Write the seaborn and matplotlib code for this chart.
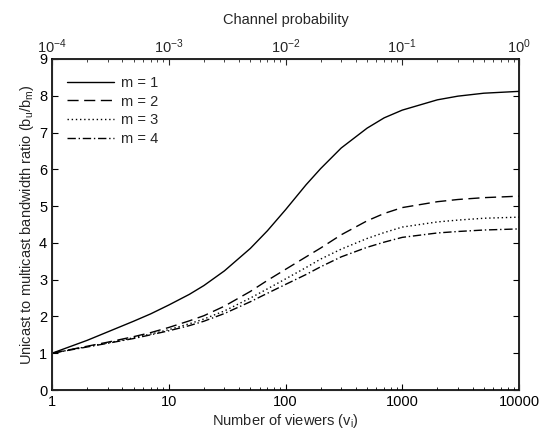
import matplotlib
matplotlib.use("Agg")
import matplotlib.pyplot as plt
import seaborn as sns
import pandas as pd
from matplotlib.ticker import LogLocator, FixedLocator, NullFormatter

viewers = [1, 2, 3, 5, 7, 10, 15, 20, 30, 50, 70, 100, 150, 200, 300, 500,
           700, 1000, 2000, 3000, 5000, 10000]
m1 = [1.0, 1.35, 1.58, 1.87, 2.07, 2.31, 2.60, 2.84, 3.24, 3.85, 4.33, 4.90,
      5.58, 6.02, 6.58, 7.12, 7.40, 7.61, 7.89, 7.99, 8.07, 8.12]
m2 = [1.0, 1.19, 1.30, 1.45, 1.56, 1.70, 1.88, 2.02, 2.28, 2.68, 2.98, 3.28,
      3.62, 3.86, 4.22, 4.60, 4.80, 4.96, 5.12, 5.18, 5.23, 5.27]
m3 = [1.0, 1.18, 1.28, 1.42, 1.52, 1.64, 1.80, 1.93, 2.15, 2.50, 2.75, 3.02,
      3.33, 3.56, 3.83, 4.12, 4.28, 4.43, 4.57, 4.62, 4.67, 4.70]
m4 = [1.0, 1.17, 1.27, 1.40, 1.50, 1.61, 1.75, 1.87, 2.08, 2.40, 2.63, 2.87,
      3.14, 3.35, 3.62, 3.88, 4.02, 4.15, 4.27, 4.31, 4.35, 4.38]
labels = ["m = 1", "m = 2", "m = 3", "m = 4"]
top_ticks = [1e-4, 1e-3, 1e-2, 1e-1, 1e0]
top_labels = [r"$10^{-4}$", r"$10^{-3}$", r"$10^{-2}$", r"$10^{-1}$", r"$10^{0}$"]
bottom_ticks = [1, 10, 100, 1000, 10000]
bottom_labels = ["1", "10", "100", "1000", "10000"]

sns.set_style("ticks")
plt.rcParams["font.family"] = ["Liberation Sans", "DejaVu Sans"]
plt.rcParams["mathtext.fontset"] = "custom"
plt.rcParams["mathtext.rm"] = "Liberation Sans"
plt.rcParams["mathtext.it"] = "Liberation Sans"
plt.rcParams["xtick.direction"] = "in"
plt.rcParams["ytick.direction"] = "in"

fig = plt.figure(figsize=(5.44, 4.33), dpi=100)
ax = fig.add_axes([52/544, 43/433, (519-52)/544, (390-59)/433])

styles = ["-", (0, (8, 4)), (0, (1, 2)), (0, (6, 2, 1, 2))]
for ys, lab, ls in zip([m1, m2, m3, m4], labels, styles):
    df = pd.DataFrame({"v": viewers, "r": ys})
    sns.lineplot(data=df, x="v", y="r", ax=ax, color="black", lw=1.0,
                 linestyle=ls, label=lab)

ax.set_xscale("log")
ax.set_xlim(1, 10000)
ax.set_ylim(0, 9)
ax.set_yticks(range(0, 10))
ax.xaxis.set_major_locator(FixedLocator(bottom_ticks))
ax.set_xticklabels(bottom_labels)
ax.xaxis.set_minor_locator(LogLocator(base=10, subs=range(2, 10)))
ax.xaxis.set_minor_formatter(NullFormatter())
ax.tick_params(axis="both", which="both", labelsize=10.5, color="black",
               labelcolor="black")
ax.tick_params(axis="y", which="both", right=True)
ax.tick_params(which="major", length=4, width=0.8)
ax.tick_params(which="minor", length=2.5, width=0.6)
ax.set_xlabel(r"Number of viewers (v$_i$)", fontsize=10.5, labelpad=2)
ax.set_ylabel(r"Unicast to multicast bandwidth ratio (b$_u$/b$_m$)", fontsize=10.5, labelpad=2)
for s in ax.spines.values():
    s.set_visible(True)
    s.set_linewidth(1.2)
    s.set_color("black")

ax2 = ax.twiny()
ax2.set_xscale("log")
ax2.set_xlim(1e-4, 1)
ax2.xaxis.set_major_locator(FixedLocator(top_ticks))
ax2.set_xticklabels(top_labels)
ax2.xaxis.set_minor_locator(LogLocator(base=10, subs=range(2, 10)))
ax2.xaxis.set_minor_formatter(NullFormatter())
ax2.tick_params(axis="x", which="both", labelsize=10.5, direction="in", pad=2)
ax2.tick_params(which="major", length=4, width=0.8)
ax2.tick_params(which="minor", length=2.5, width=0.6)
ax2.set_xlabel("Channel probability", fontsize=10.5, labelpad=10)

leg = ax.legend(loc="upper left", frameon=False, fontsize=10.5,
                handlelength=3.2, bbox_to_anchor=(0.02, 0.967),
                borderaxespad=0.0, labelspacing=0.33, handletextpad=0.5)

fig.savefig("out.png", dpi=100)
